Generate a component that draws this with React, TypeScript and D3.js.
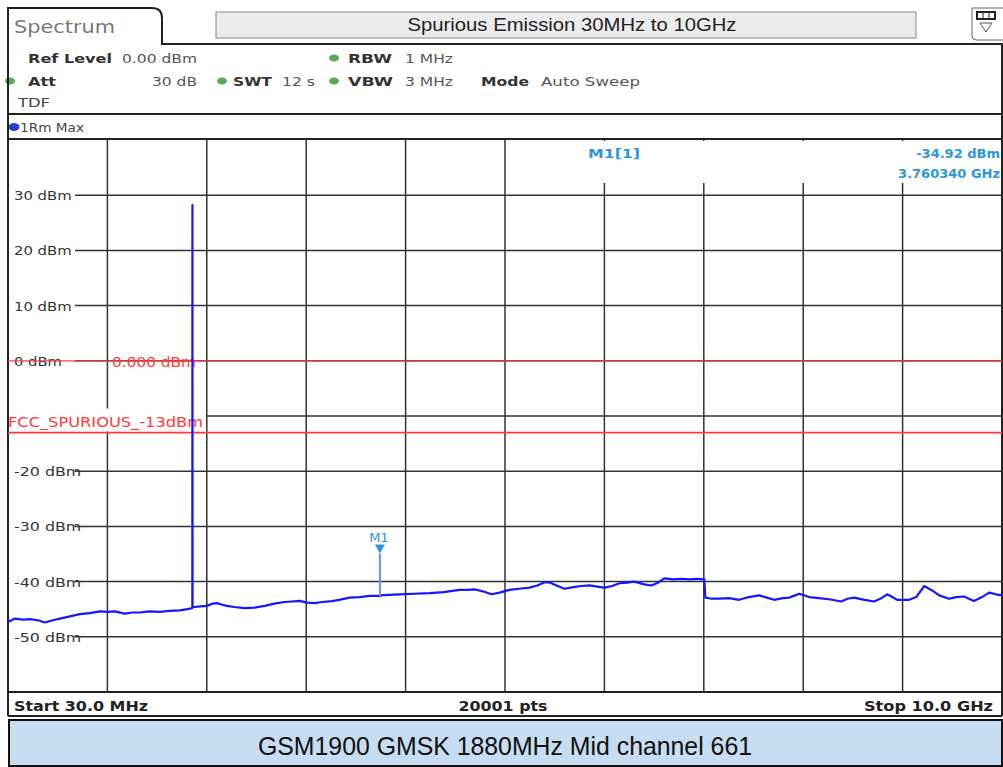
import React from "react";
import * as d3 from "d3";

// ---- data ----
const freqMHz = [
  30, 100, 180, 250, 330, 400, 480, 551, 650, 751, 850, 952, 1030, 1102, 1202, 1280, 1353, 1450, 1553, 1650, 1753, 1830, 1874,
  1879, 1880, 1881,
  1900, 1960, 2024, 2080, 2124, 2180, 2224, 2300, 2405, 2500, 2605, 2700, 2806, 2880, 2956, 3030, 3106, 3180, 3256, 3350, 3457, 3560, 3657, 3740,
  3759, 3760.34, 3762,
  3850, 3958, 4100, 4258, 4400, 4559, 4640, 4709, 4800, 4880, 4960, 5060, 5160, 5260, 5340, 5411, 5470, 5531, 5611, 5700, 5780, 5862, 5940, 6012, 6090,
  6162, 6240, 6313, 6413, 6483, 6550, 6613, 6700, 6780, 6864, 6940, 7014,
  7024, 7090, 7164, 7260, 7365, 7460, 7565, 7640, 7715, 7800, 7866, 7966, 8066, 8160, 8266, 8387, 8450, 8517, 8620, 8717, 8790, 8848, 8948, 9068,
  9140, 9219, 9300, 9369, 9469, 9540, 9619, 9719, 9800, 9870, 9940, 10000,
];
const levelDbm = [
  -47.3, -46.7, -46.9, -46.8, -47.0, -47.4, -47.0, -46.7, -46.3, -45.9, -45.7, -45.4, -45.5, -45.4, -45.8, -45.6, -45.6, -45.4, -45.5, -45.3, -45.2, -45.0, -44.8,
  -44.8, 28.2, -44.7,
  -44.6, -44.5, -44.4, -44.0, -43.9, -44.2, -44.4, -44.6, -44.8, -44.7, -44.4, -44.0, -43.7, -43.6, -43.5, -43.8, -43.9, -43.7, -43.6, -43.3, -42.9, -42.8, -42.6, -42.6,
  -42.6, -42.6, -42.5,
  -42.4, -42.3, -42.2, -42.1, -41.9, -41.5, -41.5, -41.4, -41.8, -42.3, -42.0, -41.5, -41.3, -41.1, -40.7, -40.1, -40.2, -40.7, -41.3, -41.0, -40.8, -40.7, -40.9, -41.1, -40.8,
  -40.3, -40.2, -40.0, -40.5, -40.7, -40.2, -39.4, -39.6, -39.5, -39.6, -39.5, -39.6,
  -42.9, -43.1, -43.1, -43.0, -43.3, -42.8, -42.5, -42.9, -43.3, -43.0, -42.9, -42.2, -42.8, -43.0, -43.2, -43.6, -43.1, -42.9, -43.3, -43.6, -43.0, -42.3, -43.3, -43.3,
  -42.8, -40.8, -41.6, -42.5, -43.1, -42.8, -42.7, -43.5, -42.8, -42.0, -42.3, -42.5,
];
const yTickValues = [30, 20, 10, 0, -10, -20, -30, -40, -50];
const yTickLabels = ["30 dBm", "20 dBm", "10 dBm", "0 dBm", "-10 dBm", "-20 dBm", "-30 dBm", "-40 dBm", "-50 dBm"];
const startMHz = 30;
const stopMHz = 10000;
const refLineDbm = 0;
const limitDbm = -13;
const limitLabel = "FCC_SPURIOUS_-13dBm";
const markerFreqMHz = 3760.34;
const markerDbm = -34.92;
const markerBaseDbm = -42.6;

const titleText = "Spurious Emission 30MHz to 10GHz";
const captionText = "GSM1900 GMSK 1880MHz Mid channel 661";

const UI = "'DejaVu Sans', Verdana, sans-serif";
const ARIAL = "'Liberation Sans', Arial, sans-serif";
const NARROW = "'Liberation Sans Narrow', 'Arial Narrow', 'Liberation Sans', sans-serif";
const COND = "'DejaVu Sans Condensed', 'DejaVu Sans', sans-serif";
const GRID = "#333";
const RED = "#ff3b3b";
const MBLUE = "#2a96dc";

function T(props: any) {
  const { x, y, children, bold, size = 13, anchor = "start", fill = "#333", font = UI, len } = props;
  return (
    <text
      x={x}
      y={y}
      fontFamily={font}
      fontSize={size}
      fontWeight={bold ? "bold" : "normal"}
      textAnchor={anchor}
      fill={fill}
      textLength={len}
      lengthAdjust={len ? "spacingAndGlyphs" : undefined}
    >
      {children}
    </text>
  );
}

function Dot({ cx, cy, color = "#5aa85a", r = 4 }: any) {
  return <ellipse cx={cx} cy={cy} rx={r + 1} ry={r - 0.5} fill={color} />;
}

export default function App() {
  const L = 8, R = 1002, TOP = 140, BOT = 692;
  const x = d3.scaleLinear().domain([startMHz, stopMHz]).range([L, R]);
  const y = d3.scaleLinear().domain([-60, 40]).range([BOT, TOP]);
  const pts = freqMHz.map((f, i) => [f, levelDbm[i]] as [number, number]);
  const line = d3.line<[number, number]>().x((d) => x(d[0])).y((d) => y(d[1]));
  const divs = d3.range(1, 10).map((i) => startMHz + ((stopMHz - startMHz) * i) / 10);
  const mx = x(markerFreqMHz);
  const my = y(markerDbm);
  const ly = y(limitDbm);

  return (
    <div style={{ position: "absolute", left: 0, top: 0 }}>
      <svg width={1003} height={767} style={{ display: "block", background: "#fff" }}>
        {/* header tab */}
        <path d={`M ${L} 118 L ${L} 8 L 152 8 Q 162 8 162 18 L 162 44 L ${R + 1} 44`} fill="none" stroke="#222" strokeWidth={2} />
        <T x={14} y={33} size={17} fill="#777" len={101}>Spectrum</T>
        <rect x={216} y={12} width={700} height={26} fill="#ebebeb" stroke="#888" strokeWidth={1} />
        <T x={572} y={31} size={18} fill="#222" font={ARIAL} anchor="middle" len={329}>{titleText}</T>
        <path d={`M 1003 8 L 972 8 L 972 36 Q 972 40 976 40 L 1003 40`} fill="none" stroke="#666" strokeWidth={1} />
        <rect x={977} y={12} width={18} height={7} fill="#fff" stroke="#222" strokeWidth={2} />
        <line x1={983} y1={12} x2={983} y2={19} stroke="#222" strokeWidth={1} />
        <line x1={989} y1={12} x2={989} y2={19} stroke="#222" strokeWidth={1} />
        <path d="M 980 23 L 992 23 L 986 32 Z" fill="none" stroke="#555" strokeWidth={1} />

        {/* settings */}
        <T x={28} y={63} bold len={84}>Ref Level</T>
        <T x={122} y={63} fill="#555" len={75}>0.00 dBm</T>
        <Dot cx={334} cy={58} />
        <T x={348} y={63} bold len={44}>RBW</T>
        <T x={405} y={63} fill="#555" len={48}>1 MHz</T>

        <Dot cx={10} cy={81} />
        <T x={28} y={86} bold len={28}>Att</T>
        <T x={152} y={86} fill="#555" len={45}>30 dB</T>
        <Dot cx={222} cy={81} />
        <T x={233} y={86} bold len={39}>SWT</T>
        <T x={282} y={86} fill="#555" len={33}>12 s</T>
        <Dot cx={334} cy={81} />
        <T x={348} y={86} bold len={45}>VBW</T>
        <T x={405} y={86} fill="#555" len={48}>3 MHz</T>
        <T x={481} y={86} bold len={48}>Mode</T>
        <T x={541} y={86} fill="#555" len={99}>Auto Sweep</T>
        <T x={18} y={107} fill="#444" len={32}>TDF</T>

        <line x1={L} y1={114} x2={R + 1} y2={114} stroke="#222" strokeWidth={2} />
        <Dot cx={14} cy={127} color="#2a3fd0" r={4.5} />
        <T x={20} y={132} fill="#444" len={64}>1Rm Max</T>
        <line x1={L} y1={139} x2={R + 1} y2={139} stroke="#222" strokeWidth={2} />

        {/* plot frame */}
        <line x1={L} y1={8} x2={L} y2={716} stroke="#222" strokeWidth={2} />
        <line x1={R} y1={44} x2={R} y2={716} stroke="#222" strokeWidth={2} />

        {/* vertical grid */}
        {divs.map((f, i) => (
          <line key={"v" + i} x1={x(f)} y1={TOP} x2={x(f)} y2={BOT} stroke={GRID} strokeWidth={1.5} />
        ))}
        {/* horizontal grid + labels (the -10 label sits under the limit-line label) */}
        {yTickValues.map((v, i) => (
          <g key={"h" + i}>
            <line x1={L} y1={y(v)} x2={R} y2={y(v)} stroke={GRID} strokeWidth={1.5} />
            <rect x={L + 1} y={y(v) - 9} width={66} height={18} fill="#fff" />
            {Math.abs(y(v) - ly) > 25 && (
              <T x={14} y={y(v) + 5} fill="#333" size={13} len={yTickLabels[i].length * 9.6}>{yTickLabels[i]}</T>
            )}
          </g>
        ))}

        {/* marker readout background */}
        <rect x={576} y={TOP + 1} width={R - 577} height={42} fill="#fff" />
        <T x={588} y={158} fill={MBLUE} bold len={52}>M1[1]</T>
        <T x={1000} y={158} fill={MBLUE} bold anchor="end">-34.92 dBm</T>
        <T x={1000} y={178} fill={MBLUE} bold anchor="end">3.760340 GHz</T>

        {/* red display line */}
        <line x1={L} y1={y(refLineDbm)} x2={R} y2={y(refLineDbm)} stroke={RED} strokeWidth={1.2} />
        <T x={112} y={y(refLineDbm) + 6} fill={RED} size={14} len={84}>0.000 dBm</T>

        {/* limit line */}
        <rect x={L + 1} y={ly - 24} width={197} height={23} fill="#fff" />
        <line x1={L} y1={ly} x2={R} y2={ly} stroke={RED} strokeWidth={1.8} />
        <T x={8} y={ly - 6} fill={RED} size={14} len={195}>{limitLabel}</T>

        {/* trace */}
        <path d={line(pts) || ""} fill="none" stroke="#1515ff" strokeWidth={2.2} strokeLinejoin="round" />

        {/* marker */}
        <line x1={mx} y1={y(markerBaseDbm)} x2={mx} y2={my} stroke="#6b8cff" strokeWidth={2} />
        <path d={`M ${mx - 5} ${my - 9} L ${mx + 5} ${my - 9} L ${mx} ${my} Z`} fill={MBLUE} />
        <T x={mx - 1} y={my - 12} fill={MBLUE} size={13} anchor="middle">M1</T>

        {/* bottom bar */}
        <line x1={L} y1={BOT} x2={R} y2={BOT} stroke="#222" strokeWidth={2} />
        <T x={14} y={711} bold size={14} fill="#222" font={COND} len={134}>{`Start ${startMHz.toFixed(1)} MHz`}</T>
        <T x={503} y={711} bold size={14} fill="#222" anchor="middle" font={COND} len={89}>20001 pts</T>
        <T x={993} y={711} bold size={14} fill="#222" anchor="end" font={COND} len={129}>{`Stop ${(stopMHz / 1000).toFixed(1)} GHz`}</T>
        <line x1={L} y1={716} x2={R} y2={716} stroke="#222" strokeWidth={2} />

        {/* caption */}
        <rect x={L + 1} y={720} width={R - L - 1} height={46} fill="#c6dcf0" stroke="#111" strokeWidth={2} />
        <T x={505} y={755} size={25} fill="#111" font={NARROW} anchor="middle" len={494}>{captionText}</T>
      </svg>
    </div>
  );
}
